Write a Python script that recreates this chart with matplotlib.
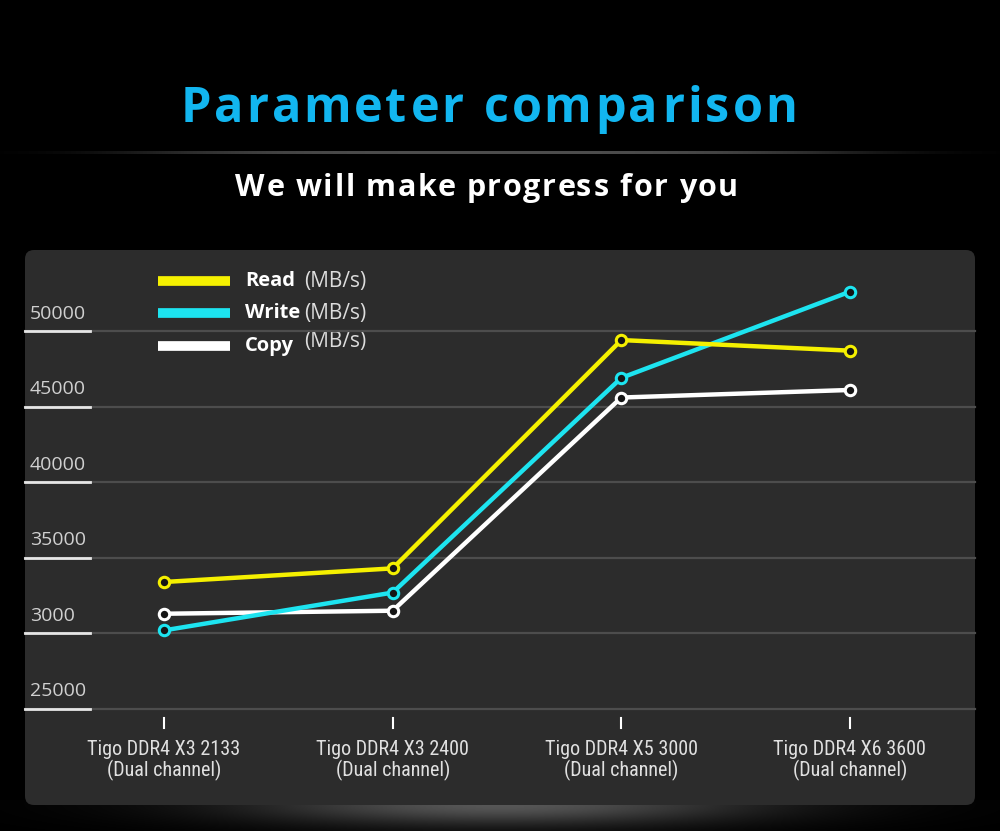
import numpy as np
import matplotlib
matplotlib.use("Agg")
import matplotlib.pyplot as plt
from matplotlib.patches import FancyBboxPatch
from matplotlib.font_manager import FontProperties

# ---- data ----
categories = ["Tigo DDR4 X3 2133\n(Dual channel)",
              "Tigo DDR4 X3 2400\n(Dual channel)",
              "Tigo DDR4 X5 3000\n(Dual channel)",
              "Tigo DDR4 X6 3600\n(Dual channel)"]
read_vals = [33400, 34300, 49400, 48700]
write_vals = [30200, 32700, 46900, 52600]
copy_vals = [31300, 31500, 45600, 46100]
series_names = ["Read", "Write", "Copy"]
series_colors = ["#f5f000", "#1de4f0", "#ffffff"]
series_z = [6, 5, 4]
ytick_vals = [25000, 30000, 35000, 40000, 45000, 50000]
ytick_labels = ["25000", "3000", "35000", "40000", "45000", "50000"]
title = "Parameter comparison"
subtitle = "We will make progress for you"
unit = "(MB/s)"

W, H = 1000, 831
fig = plt.figure(figsize=(W / 100, H / 100), dpi=100, facecolor="black")
renderer = fig.canvas.get_renderer()

# background / decoration axes in pixel coords
bg = fig.add_axes([0, 0, 1, 1])
bg.set_xlim(0, W)
bg.set_ylim(H, 0)
bg.axis("off")
bg.set_facecolor("black")

# bottom glow
gx = np.linspace(0, W, 400)
gy = np.linspace(800, H, 40)
GX, GY = np.meshgrid(gx, gy)
glow = 0.34 * np.exp(-((GX - 500) / 260) ** 2 - ((GY - 804) / 22) ** 2)
bg.imshow(np.dstack([glow, glow, glow]), extent=(0, W, H, 800), aspect="auto",
          interpolation="bilinear", zorder=0)

# separator line under title
sx = np.linspace(0, W, 500)
sep = 0.30 * np.exp(-((sx - 500) / 360) ** 4)
sep_img = np.dstack([sep, sep, sep])
bg.imshow(sep_img, extent=(0, W, 154.5, 151.5), aspect="auto",
          interpolation="bilinear", zorder=1)

# panel
panel = FancyBboxPatch((25, 250), 950, 555,
                       boxstyle="round,pad=0,rounding_size=9",
                       fc="#2c2c2c", ec="none", zorder=2)
bg.add_patch(panel)


def tracked_text(s, cx, y, track, **kw):
    fp = FontProperties(family=kw.get("family"), weight=kw.get("fontweight", "normal"),
                        size=kw.get("fontsize"))
    def w(t):
        return renderer.get_text_width_height_descent(t, fp, ismath=False)[0]
    wx = w("x")
    offs = [w(s[:i] + "x") - wx if i > 0 else 0.0 for i in range(len(s))]
    total = w(s) + track * (len(s) - 1)
    x0 = cx - total / 2
    for i, ch in enumerate(s):
        if ch == " ":
            continue
        bg.text(x0 + offs[i] + track * i, y, ch, ha="left", va="baseline", zorder=3, **kw)


tracked_text(title, 489, 122, 3.2, color="#12b6f0", fontsize=35, fontweight="bold",
             family="Open Sans")
tracked_text(subtitle, 487, 196, 1.7, color="white", fontsize=22, fontweight="bold",
             family="Open Sans")

# legend (manual)
leg_y = [281, 313, 346]
for name, col, y in zip(series_names, series_colors, leg_y):
    bg.plot([158, 230], [y, y], color=col, lw=7, solid_capstyle="butt", zorder=3)
    bg.text(245, y, name, color="white", fontsize=14.5, fontweight="bold",
            family="Open Sans", ha="left", va="center", zorder=3)
    bg.text(304, y - (4 if name == "Copy" else 0), unit, color="#dddddd", fontsize=15,
            family="Open Sans", ha="left", va="center", zorder=3)

# ---- data axes ----
px_per_unit = 75.6 / 5000
ax = fig.add_axes([25 / W, (H - 709) / H, 950 / W, (709 - 250) / H])
ax.patch.set_alpha(0)
ax.set_zorder(5)
ax.set_ylim(25000, 25000 + (709 - 250) / px_per_unit)
ax.set_xlim(-(164 - 25) / 228.5, 3 + (975 - 850) / 228.5)
for s in ax.spines.values():
    s.set_visible(False)

ytr = ax.get_yaxis_transform()
for v, lab in zip(ytick_vals, ytick_labels):
    ax.plot([0, 1], [v, v], color="#4d4d4d", lw=1.6, transform=ytr, zorder=1, clip_on=False)
    ax.plot([0, 65 / 950], [v, v], color="#e6e6e6", lw=2, transform=ytr, zorder=2, clip_on=False)
    ax.annotate(lab, xy=(5 / 950, v), xycoords=ytr, xytext=(0, 9), textcoords="offset points",
                color="#d0d0d0", fontsize=14, family="Open Sans", ha="left", va="baseline")

ax.set_yticks([])
xs = np.arange(len(categories))
ax.set_xticks(xs)
ax.set_xticklabels(categories, color="#e0e0e0", fontsize=14.5,
                   family=["Roboto Condensed", "Liberation Sans Narrow", "Roboto"],
                   linespacing=1.1)
ax.tick_params(axis="x", length=0, pad=22)

xtr = ax.get_xaxis_transform()
for x in xs:
    ax.plot([x, x], [-9 / 459, -19 / 459], color="white", lw=1.5, transform=xtr, clip_on=False)

for vals, col, z in zip([read_vals, write_vals, copy_vals], series_colors, series_z):
    ax.plot(xs, vals, color=col, lw=3.2, marker="o", markersize=7.5,
            markerfacecolor="#151515", markeredgecolor=col, markeredgewidth=2.2,
            zorder=z, solid_joinstyle="round")

fig.savefig("out.png", dpi=100, facecolor="black")
